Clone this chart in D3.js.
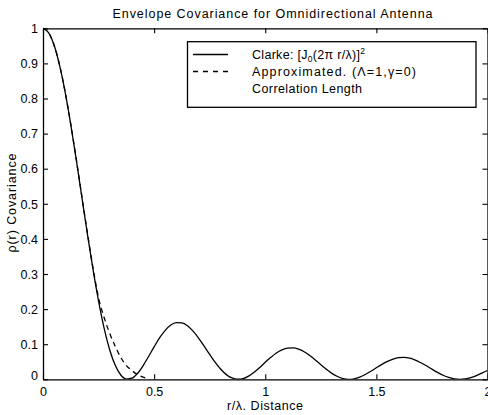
<!DOCTYPE html>
<html>
<head>
<meta charset="utf-8">
<script src="https://cdn.jsdelivr.net/npm/d3@7"></script>
<style>
  html, body { margin: 0; padding: 0; background: #fff; }
  svg { display: block; }
  text { font-family: "Liberation Sans", Arial, Helvetica, sans-serif; fill: #000; }
</style>
</head>
<body>
<div id="chart"></div>
<script>
// ---- data ----
const clarkeStep = 0.025; // r/λ spacing of the Clarke samples (0 … 2)
const clarkeValues = [
  1.0000, 0.9877, 0.9516, 0.8935, 0.8167, 0.7253, 0.6245, 0.5181, 0.4133, 0.3129,
  0.2228, 0.1458, 0.0843, 0.0399, 0.0123, 0.0007, 0.0030, 0.0166, 0.0385, 0.0650,
  0.0925, 0.1185, 0.1394, 0.1545, 0.1614, 0.1606, 0.1523, 0.1371, 0.1174, 0.0943,
  0.0707, 0.0481, 0.0285, 0.0133, 0.0038, 0.0001, 0.0020, 0.0091, 0.0202, 0.0337,
  0.0485, 0.0625, 0.0749, 0.0838, 0.0890, 0.0897, 0.0860, 0.0784, 0.0678, 0.0553,
  0.0417, 0.0286, 0.0170, 0.0080, 0.0022, 0.0000, 0.0015, 0.0062, 0.0136, 0.0228,
  0.0328, 0.0426, 0.0510, 0.0576, 0.0615, 0.0623, 0.0600, 0.0549, 0.0471, 0.0385,
  0.0289, 0.0197, 0.0116, 0.0053, 0.0013, 0.0000, 0.0013, 0.0050, 0.0107, 0.0177,
  0.0253
];
const approxR = [0, 0.025, 0.05, 0.075, 0.1, 0.125, 0.15, 0.175, 0.2, 0.225,
                 0.25, 0.275, 0.3, 0.325, 0.35, 0.375, 0.4, 0.425, 0.45, 0.46];
const approxValues = [1.0000, 0.9877, 0.9518, 0.8940, 0.8175, 0.7265, 0.6262, 0.5205, 0.4165, 0.3175,
                      0.2320, 0.1760, 0.1310, 0.0940, 0.0620, 0.0390, 0.0250, 0.0135, 0.0060, 0.0040];
const xTicks = [0, 0.5, 1, 1.5, 2];
const xTickLabels = ["0", "0.5", "1", "1.5", "2"];
const yTicks = [0, 0.1, 0.2, 0.3, 0.4, 0.5, 0.6, 0.7, 0.8, 0.9, 1];
const yTickLabels = ["0", "0.1", "0.2", "0.3", "0.4", "0.5", "0.6", "0.7", "0.8", "0.9", "1"];
const titleText = "Envelope Covariance for Omnidirectional Antenna";
const xLabelText = "r/λ. Distance";
const yLabelText = "ρ(r) Covariance";

// ---- layout ----
const W = 488, H = 415;
const L = 43, R = 487.5, T = 28.3, B = 379.3;
const FS = 12.5;

const svg = d3.select("#chart").append("svg").attr("width", W).attr("height", H);

const x = d3.scaleLinear().domain([0, 2]).range([L, R]);
const y = d3.scaleLinear().domain([0, 1]).range([B, T]);

svg.append("defs").append("clipPath").attr("id", "clip")
  .append("rect").attr("x", L).attr("y", T - 2).attr("width", R - L).attr("height", B - T + 2);

// title
svg.append("text").attr("x", 272.5).attr("y", 17.5).attr("text-anchor", "middle")
  .attr("font-size", FS).attr("textLength", 320).attr("lengthAdjust", "spacing")
  .text(titleText);

// axes (MATLAB style inward ticks, four sides)
const tickLen = 5;
const axBottom = svg.append("g").attr("transform", `translate(0,${B})`)
  .call(d3.axisBottom(x).tickValues(xTicks).tickSizeInner(-tickLen).tickSizeOuter(0)
    .tickPadding(7.5).tickFormat((d, i) => xTickLabels[i]));
const axTop = svg.append("g").attr("transform", `translate(0,${T})`)
  .call(d3.axisTop(x).tickValues(xTicks).tickSizeInner(-tickLen).tickSizeOuter(0).tickFormat(""));
const axLeft = svg.append("g").attr("transform", `translate(${L},0)`)
  .call(d3.axisLeft(y).tickValues(yTicks).tickSizeInner(-tickLen).tickSizeOuter(0)
    .tickPadding(5).tickFormat((d, i) => yTickLabels[i]));
const axRight = svg.append("g").attr("transform", `translate(${R},0)`)
  .call(d3.axisRight(y).tickValues(yTicks).tickSizeInner(-tickLen).tickSizeOuter(0).tickFormat(""));

[axBottom, axTop, axLeft, axRight].forEach(g => {
  g.select(".domain").attr("stroke", "#000").attr("stroke-width", 1.3);
  g.selectAll(".tick line").attr("stroke", "#000").attr("stroke-width", 1.1);
  g.selectAll("text").attr("font-size", FS).attr("font-family", "Liberation Sans, Arial, sans-serif").attr("fill", "#000");
});
axBottom.selectAll(".tick text").attr("dy", "0.71em");
axLeft.selectAll(".tick text").attr("dy", "0.34em");
// slight lift of the bottom "0" label on the y axis as in the reference
axLeft.selectAll(".tick").filter(d => d === 0).select("text").attr("dy", "0.05em");

// axis labels
svg.append("text").attr("x", 265).attr("y", 409.5).attr("text-anchor", "middle")
  .attr("font-size", FS).attr("textLength", 76).attr("lengthAdjust", "spacing")
  .text(xLabelText);
svg.append("text").attr("transform", "translate(15.5,203) rotate(-90)")
  .attr("text-anchor", "middle").attr("font-size", FS)
  .attr("textLength", 99).attr("lengthAdjust", "spacing")
  .text(yLabelText);

// curves
const clarke = clarkeValues.map((v, i) => [i * clarkeStep, v]);
const approx = approxR.map((r, i) => [r, approxValues[i]]);
const line = d3.line().x(d => x(d[0])).y(d => y(d[1])).curve(d3.curveMonotoneX);

const plot = svg.append("g").attr("clip-path", "url(#clip)");
plot.append("path").datum(approx).attr("d", line)
  .attr("fill", "none").attr("stroke", "#000").attr("stroke-width", 1.3)
  .attr("stroke-dasharray", "5,4");
plot.append("path").datum(clarke).attr("d", line)
  .attr("fill", "none").attr("stroke", "#000").attr("stroke-width", 1.3);

// legend
const lg = svg.append("g");
lg.append("rect").attr("x", 187.5).attr("y", 41.7).attr("width", 288.5).attr("height", 65.6)
  .attr("fill", "#fff").attr("stroke", "#000").attr("stroke-width", 1.3);
lg.append("line").attr("x1", 193).attr("x2", 228).attr("y1", 54.5).attr("y2", 54.5)
  .attr("stroke", "#000").attr("stroke-width", 1.3);
lg.append("line").attr("x1", 193).attr("x2", 228).attr("y1", 71.5).attr("y2", 71.5)
  .attr("stroke", "#000").attr("stroke-width", 1.3).attr("stroke-dasharray", "5,5");

const t1 = lg.append("text").attr("x", 252).attr("y", 58.5).attr("font-size", FS)
  .attr("letter-spacing", 0.3);
t1.append("tspan").text("Clarke: [J");
t1.append("tspan").attr("font-size", 8.5).attr("dy", 3).text("0");
t1.append("tspan").attr("dy", -3).text("(2π r/λ)]");
t1.append("tspan").attr("font-size", 8.5).attr("dy", -5).text("2");

lg.append("text").attr("x", 252).attr("y", 75.5).attr("font-size", FS)
  .attr("textLength", 164).attr("lengthAdjust", "spacing")
  .text("Approximated. (Λ=1,γ=0)");
lg.append("text").attr("x", 252).attr("y", 92.5).attr("font-size", FS)
  .attr("textLength", 110).attr("lengthAdjust", "spacing")
  .text("Correlation Length");
</script>
</body>
</html>
